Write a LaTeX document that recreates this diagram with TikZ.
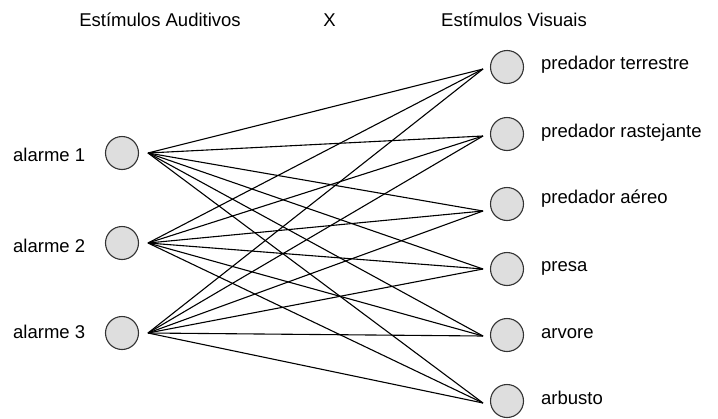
\documentclass[tikz,border=0pt]{standalone}
\usepackage{fontspec}
\setmainfont{Liberation Sans}
\begin{document}
\begin{tikzpicture}[x=1pt,y=-1pt,
  stim/.style={circle,draw=black!80,fill=black!13,line width=1.1pt,minimum size=33pt,inner sep=0pt},
  lbl/.style={anchor=base west,inner sep=0pt,font=\fontsize{18.5}{22}\selectfont},
  head/.style={anchor=base,inner sep=0pt,font=\fontsize{18.5}{22}\selectfont},
  link/.style={draw=black,line width=1.1pt}]
\useasboundingbox (0,0) rectangle (718,418);

% headings
\node[head] (hA) at (160,26.7) {Estímulos Auditivos};
\node[head] (hX) at (329.5,26.7) {X};
\node[head] (hV) at (514,26.7) {Estímulos Visuais};

% auditory stimuli
\foreach \i/\y/\b in {1/153/161, 2/243/252.5, 3/333/338.5}{
  \node[stim] (a\i) at (122,\y) {};
  \node[lbl] (la\i) at (13,\b) {alarme \i};
  \coordinate (pa\i) at (148,\y);
}

% visual stimuli
\foreach \n/\y/\e/\b/\t in {
  1/67/69/69/predador terrestre,
  2/134/136/137/predador rastejante,
  3/204/211/203/predador aéreo,
  4/269/269/271/presa,
  5/335/336/338/arvore,
  6/401/403/404/arbusto}{
  \node[stim] (v\n) at (507,\y) {};
  \node[lbl] (lv\n) at (541,\b) {\t};
  \coordinate (pv\n) at (483,\e);
}

% every auditory stimulus paired with every visual one
\foreach \i in {1,2,3}{
  \foreach \n in {1,...,6}{
    \draw[link] (pa\i) -- (pv\n);
  }
}
\end{tikzpicture}
\end{document}
